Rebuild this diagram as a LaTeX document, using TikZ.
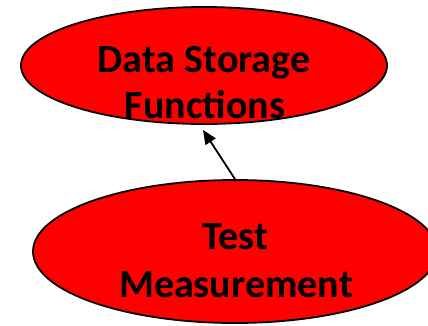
\documentclass[tikz,border=0pt]{standalone}
\usepackage{fontspec}
\setmainfont{Carlito}
\usetikzlibrary{shapes.geometric,arrows.meta}
\begin{document}
\begin{tikzpicture}[x=1pt,y=-1pt,
  blob/.style={ellipse,draw=black,line width=1.8pt,fill=red,inner sep=0pt},
  lbl/.style={font=\fontsize{40}{46}\selectfont\bfseries,align=center,inner sep=0pt,anchor=base}]
\useasboundingbox (0,0) rectangle (428,325);
\clip (0,0) rectangle (428,325);
\node[blob,minimum width=366pt,minimum height=117pt] (top) at (204,65.5) {};
\node[blob,minimum width=404pt,minimum height=143pt] (bot) at (235,251.5) {};
\node[lbl] (t1) at (204,72) {Data Storage};
\node[lbl] (t2) at (205,118) {Functions};
\node[lbl] (b1) at (235,249) {Test};
\node[lbl] (b2) at (236,297) {Measurement};
\coordinate (tip) at (203,130);
\draw[line width=1.8pt,-{Triangle[length=14pt,width=12pt]}] (bot.north) -- (tip);
\end{tikzpicture}
\end{document}
